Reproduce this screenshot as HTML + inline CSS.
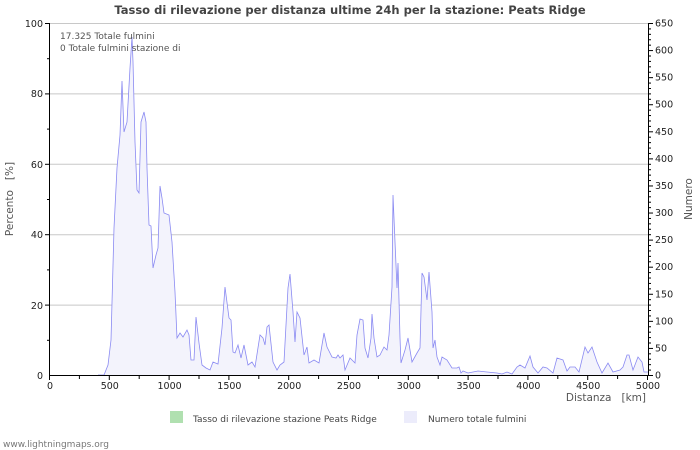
<!DOCTYPE html>
<html><head><meta charset="utf-8"><style>
html,body{margin:0;padding:0;background:#fff;}
svg{display:block;font-family:"DejaVu Sans","Liberation Sans",sans-serif;}
</style></head><body>
<svg width="700" height="450" viewBox="0 0 700 450" xmlns="http://www.w3.org/2000/svg">
<text x="350" y="14" text-anchor="middle" font-size="11.5" font-weight="bold" fill="#444">Tasso di rilevazione per distanza ultime 24h per la stazione: Peats Ridge</text>
<g stroke="#c8c8c8" stroke-width="1">
<line x1="50" y1="23.5" x2="648" y2="23.5"/>
<line x1="50" y1="93.9" x2="648" y2="93.9"/>
<line x1="50" y1="164.3" x2="648" y2="164.3"/>
<line x1="50" y1="234.7" x2="648" y2="234.7"/>
<line x1="50" y1="305.1" x2="648" y2="305.1"/>
</g>
<polygon fill="#f3f3fc" stroke="none" points="98,375 104,375 108,365 111,340 114,228 117,168 120,135 122,81 124,132 127,122 130,68 132,37 133,62 135,142 137,190 139,193 141,122 144,112 146,122 147,168 149,225 151,226 153,268 156,255 158,248 160,186 162,198 164,213 169,215 172,242 175,292 177,338 180,333 183,337 187,330 189,335 191,360 194,360 196,317 199,343 202,365 206,368 210,370 213,362 218,364 222,328 225,287 229,318 231,320 233,352 235,353 238,345 241,358 244,345 248,365 252,362 255,367 260,335 263,338 265,345 267,327 269,325 273,362 277,370 280,365 284,362 288,288 290,274 293,312 295,342 297,312 300,318 304,355 307,347 309,363 314,360 319,363 324,333 327,347 332,357 336,358 338,355 340,358 343,355 345,370 350,358 355,363 357,335 360,319 363,320 365,348 368,358 371,338 372,314 374,338 377,357 380,355 384,347 387,350 389,335 392,287 393,195 395,242 397,288 398,263 400,338 401,363 405,350 408,338 412,362 417,353 420,348 422,273 424,277 427,300 429,272 432,312 433,348 435,340 437,357 440,365 442,357 447,360 452,368 457,368 459,367 461,373 463,371 468,373 473,372 478,371 487,372 497,373 502,374 507,372 512,374 517,367 520,365 525,368 530,356 533,367 538,373 543,367 547,368 553,373 557,358 563,360 567,371 570,367 575,367 579,372 585,347 588,353 592,347 597,362 602,373 608,363 613,372 620,370 623,367 627,355 629,355 633,370 638,357 642,362 644,372 648,372 648,375"/>
<polyline fill="none" stroke="#8a8af2" stroke-width="0.8" points="98,375 104,375 108,365 111,340 114,228 117,168 120,135 122,81 124,132 127,122 130,68 132,37 133,62 135,142 137,190 139,193 141,122 144,112 146,122 147,168 149,225 151,226 153,268 156,255 158,248 160,186 162,198 164,213 169,215 172,242 175,292 177,338 180,333 183,337 187,330 189,335 191,360 194,360 196,317 199,343 202,365 206,368 210,370 213,362 218,364 222,328 225,287 229,318 231,320 233,352 235,353 238,345 241,358 244,345 248,365 252,362 255,367 260,335 263,338 265,345 267,327 269,325 273,362 277,370 280,365 284,362 288,288 290,274 293,312 295,342 297,312 300,318 304,355 307,347 309,363 314,360 319,363 324,333 327,347 332,357 336,358 338,355 340,358 343,355 345,370 350,358 355,363 357,335 360,319 363,320 365,348 368,358 371,338 372,314 374,338 377,357 380,355 384,347 387,350 389,335 392,287 393,195 395,242 397,288 398,263 400,338 401,363 405,350 408,338 412,362 417,353 420,348 422,273 424,277 427,300 429,272 432,312 433,348 435,340 437,357 440,365 442,357 447,360 452,368 457,368 459,367 461,373 463,371 468,373 473,372 478,371 487,372 497,373 502,374 507,372 512,374 517,367 520,365 525,368 530,356 533,367 538,373 543,367 547,368 553,373 557,358 563,360 567,371 570,367 575,367 579,372 585,347 588,353 592,347 597,362 602,373 608,363 613,372 620,370 623,367 627,355 629,355 633,370 638,357 642,362 644,372 648,372"/>
<g stroke="#000" stroke-width="1">
<line x1="49.5" y1="23" x2="49.5" y2="375"/>
<line x1="648.5" y1="23" x2="648.5" y2="375"/>
<line x1="49" y1="375.5" x2="649" y2="375.5"/>
</g>
<g stroke="#000" stroke-width="1" id="lt">
<line x1="45" y1="23.5" x2="49" y2="23.5"/><line x1="47" y1="58.7" x2="49" y2="58.7"/>
<line x1="45" y1="93.9" x2="49" y2="93.9"/><line x1="47" y1="129.1" x2="49" y2="129.1"/>
<line x1="45" y1="164.3" x2="49" y2="164.3"/><line x1="47" y1="199.5" x2="49" y2="199.5"/>
<line x1="45" y1="234.7" x2="49" y2="234.7"/><line x1="47" y1="269.9" x2="49" y2="269.9"/>
<line x1="45" y1="305.1" x2="49" y2="305.1"/><line x1="47" y1="340.3" x2="49" y2="340.3"/>
</g>
<g font-size="9.5" fill="#222" text-anchor="end">
<text x="43" y="27">100</text><text x="43" y="97">80</text><text x="43" y="168">60</text>
<text x="43" y="238">40</text><text x="43" y="309">20</text><text x="43" y="379">0</text>
</g>
<g id="rt"></g>
<g font-size="9.5" fill="#222" id="rl"></g>
<g id="xt"></g>
<g font-size="9.5" fill="#222" text-anchor="middle" id="xl"></g>
<text x="60" y="39" font-size="9" fill="#555">17.325 Totale fulmini</text>
<text x="60" y="51" font-size="9" fill="#555">0 Totale fulmini stazione di</text>
<text x="13" y="199" font-size="10.5" fill="#555" text-anchor="middle" transform="rotate(-90 13 199)">Percento&#160;&#160;&#160;[%]</text>
<text x="692" y="199" font-size="10.5" fill="#555" text-anchor="middle" transform="rotate(-90 692 199)">Numero</text>
<text x="646" y="401" font-size="10.5" fill="#555" text-anchor="end">Distanza&#160;&#160;&#160;[km]</text>
<rect x="170" y="411" width="13" height="12" fill="#b0e0b0"/>
<text x="193" y="422" font-size="9" fill="#444">Tasso di rilevazione stazione Peats Ridge</text>
<rect x="404" y="411" width="13" height="12" fill="#ececfb"/>
<text x="428" y="422" font-size="9" fill="#444">Numero totale fulmini</text>
<text x="3" y="447" font-size="9" fill="#777">www.lightningmaps.org</text>
<script>
var ns="http://www.w3.org/2000/svg";
function el(p,t,a,txt){var e=document.createElementNS(ns,t);for(var k in a)e.setAttribute(k,a[k]);if(txt!=null)e.textContent=txt;document.getElementById(p).appendChild(e);}
for(var v=0;v<=650;v+=10){var y=375-v*352/650;var big=v%50==0;el("rt","line",{x1:649,x2:big?653:651,y1:y+0.5,y2:y+0.5,stroke:"#000"});if(big)el("rl","text",{x:655,y:y+3.5},String(v));}
for(var d=0;d<=5000;d+=250){var x=50+d*598/5000;var big=d%500==0;el("xt","line",{x1:x-0.5,x2:x-0.5,y1:376,y2:big?380:379,stroke:"#000"});if(big)el("xl","text",{x:x,y:389},String(d));}
</script>
</svg>
</body></html>
